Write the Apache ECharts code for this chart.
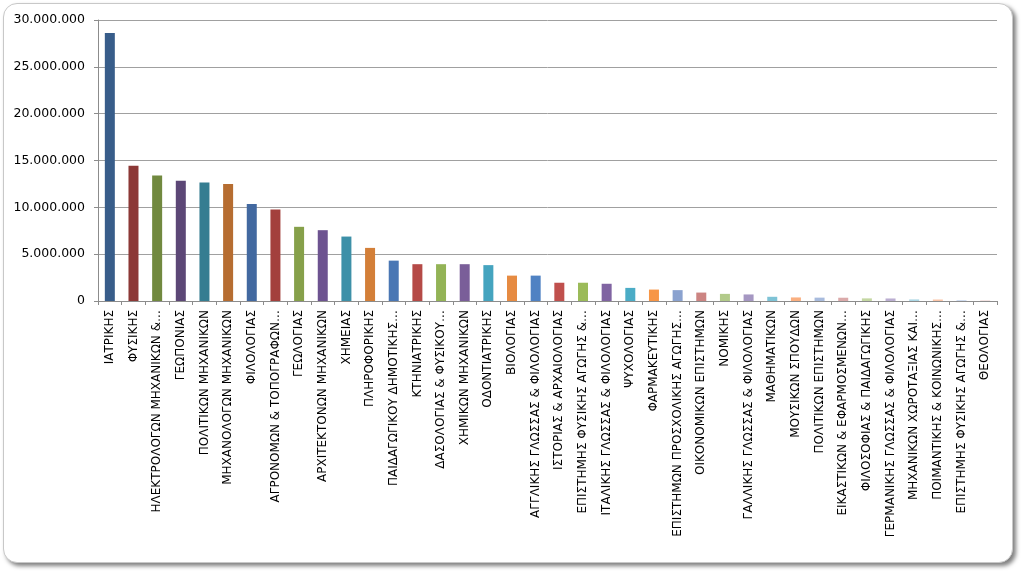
<!DOCTYPE html>
<html>
<head>
<meta charset="utf-8">
<script src="https://cdn.jsdelivr.net/npm/echarts@6/dist/echarts.min.js"></script>
<style>
  html, body { margin: 0; padding: 0; background: #ffffff; }
  #frame {
    position: absolute; left: 3px; top: 3px; width: 1008px; height: 558px;
    border: 1px solid #c8c8c8; border-radius: 14px; background: #ffffff;
    box-shadow: 3px 3px 4px rgba(0,0,0,0.5);
  }
  #chart { position: absolute; left: 0; top: 0; width: 1024px; height: 574px; }
</style>
</head>
<body>
<div id="frame"></div>
<div id="chart"></div>
<script>
const categories = [
  "ΙΑΤΡΙΚΗΣ", "ΦΥΣΙΚΗΣ", "ΗΛΕΚΤΡΟΛΟΓΩΝ ΜΗΧΑΝΙΚΩΝ &…", "ΓΕΩΠΟΝΙΑΣ",
  "ΠΟΛΙΤΙΚΩΝ ΜΗΧΑΝΙΚΩΝ", "ΜΗΧΑΝΟΛΟΓΩΝ ΜΗΧΑΝΙΚΩΝ", "ΦΙΛΟΛΟΓΙΑΣ",
  "ΑΓΡΟΝΟΜΩΝ & ΤΟΠΟΓΡΑΦΩΝ…", "ΓΕΩΛΟΓΙΑΣ", "ΑΡΧΙΤΕΚΤΟΝΩΝ ΜΗΧΑΝΙΚΩΝ",
  "ΧΗΜΕΙΑΣ", "ΠΛΗΡΟΦΟΡΙΚΗΣ", "ΠΑΙΔΑΓΩΓΙΚΟΥ ΔΗΜΟΤΙΚΗΣ…", "ΚΤΗΝΙΑΤΡΙΚΗΣ",
  "ΔΑΣΟΛΟΓΙΑΣ & ΦΥΣΙΚΟΥ…", "ΧΗΜΙΚΩΝ ΜΗΧΑΝΙΚΩΝ", "ΟΔΟΝΤΙΑΤΡΙΚΗΣ",
  "ΒΙΟΛΟΓΙΑΣ", "ΑΓΓΛΙΚΗΣ ΓΛΩΣΣΑΣ & ΦΙΛΟΛΟΓΙΑΣ", "ΙΣΤΟΡΙΑΣ & ΑΡΧΑΙΟΛΟΓΙΑΣ",
  "ΕΠΙΣΤΗΜΗΣ ΦΥΣΙΚΗΣ ΑΓΩΓΗΣ &…", "ΙΤΑΛΙΚΗΣ ΓΛΩΣΣΑΣ & ΦΙΛΟΛΟΓΙΑΣ",
  "ΨΥΧΟΛΟΓΙΑΣ", "ΦΑΡΜΑΚΕΥΤΙΚΗΣ", "ΕΠΙΣΤΗΜΩΝ ΠΡΟΣΧΟΛΙΚΗΣ ΑΓΩΓΗΣ…",
  "ΟΙΚΟΝΟΜΙΚΩΝ ΕΠΙΣΤΗΜΩΝ", "ΝΟΜΙΚΗΣ", "ΓΑΛΛΙΚΗΣ ΓΛΩΣΣΑΣ & ΦΙΛΟΛΟΓΙΑΣ",
  "ΜΑΘΗΜΑΤΙΚΩΝ", "ΜΟΥΣΙΚΩΝ ΣΠΟΥΔΩΝ", "ΠΟΛΙΤΙΚΩΝ ΕΠΙΣΤΗΜΩΝ",
  "ΕΙΚΑΣΤΙΚΩΝ & ΕΦΑΡΜΟΣΜΕΝΩΝ…", "ΦΙΛΟΣΟΦΙΑΣ & ΠΑΙΔΑΓΩΓΙΚΗΣ",
  "ΓΕΡΜΑΝΙΚΗΣ ΓΛΩΣΣΑΣ & ΦΙΛΟΛΟΓΙΑΣ", "ΜΗΧΑΝΙΚΩΝ ΧΩΡΟΤΑΞΙΑΣ ΚΑΙ…",
  "ΠΟΙΜΑΝΤΙΚΗΣ & ΚΟΙΝΩΝΙΚΗΣ…", "ΕΠΙΣΤΗΜΗΣ ΦΥΣΙΚΗΣ ΑΓΩΓΗΣ &…", "ΘΕΟΛΟΓΙΑΣ"
];

const values = [
  28600000, 14450000, 13400000, 12850000, 12650000, 12500000, 10350000,
  9780000, 7920000, 7560000, 6880000, 5670000, 4310000, 3930000,
  3930000, 3930000, 3830000, 2710000, 2710000, 1950000, 1950000,
  1840000, 1400000, 1220000, 1160000, 900000, 760000, 700000,
  450000, 380000, 360000, 350000, 280000, 270000, 170000,
  160000, 100000, 60000
];

const barColors = [
  "#385D8A", "#8C3836", "#71893F", "#5C4776", "#357D91", "#B66D31",
  "#4269A0", "#A3403D", "#86A04A", "#6D5390", "#3D90A8", "#D37F38",
  "#4A77B4", "#B54A47", "#93B356", "#7A5E99", "#45A4BF", "#E68B42",
  "#5082C3", "#C0504D", "#9BBB59", "#8064A2", "#4BACC6", "#F79646",
  "#8AA2CF", "#CC8482", "#B2CA8A", "#A597C2", "#7EC3D6", "#FAAF80",
  "#A8BBDD", "#DBAAAA", "#C4D7A2", "#BBAED1", "#ABD7E5", "#FBC4A6",
  "#CDDAEE", "#EBCFCE"
];

const yTickLabels = ["0", "5.000.000", "10.000.000", "15.000.000", "20.000.000", "25.000.000", "30.000.000"];

const chart = echarts.init(document.getElementById('chart'), null, { renderer: 'canvas' });
const FONT = 'DejaVu Sans';

chart.setOption({
  backgroundColor: 'transparent',
  animation: false,
  grid: { left: 98, right: 27, top: 20, bottom: 273, containLabel: false },
  xAxis: {
    type: 'category',
    data: categories,
    boundaryGap: true,
    axisLine: { show: true, lineStyle: { color: '#8c8c8c', width: 1 } },
    axisTick: { show: true, alignWithLabel: false, length: 4, lineStyle: { color: '#8c8c8c' } },
    axisLabel: {
      interval: 0, rotate: 90, margin: 9,
      fontFamily: FONT, fontSize: 12, color: '#000000'
    },
    splitLine: { show: false }
  },
  yAxis: {
    type: 'value',
    min: 0, max: 30000000, interval: 5000000,
    axisLine: { show: true, lineStyle: { color: '#8c8c8c', width: 1 } },
    axisTick: { show: true, length: 4, lineStyle: { color: '#8c8c8c' } },
    axisLabel: {
      margin: 13, fontFamily: FONT, fontSize: 12.5, color: '#000000',
      formatter: function (v) { return yTickLabels[Math.round(v / 5000000)]; }
    },
    splitLine: { show: true, lineStyle: { color: '#a0a0a0', width: 1 } }
  },
  series: [{
    type: 'bar',
    barWidth: 10,
    data: values.map(function (v, i) {
      return { value: v, itemStyle: { color: barColors[i] } };
    })
  }]
});
</script>
</body>
</html>
